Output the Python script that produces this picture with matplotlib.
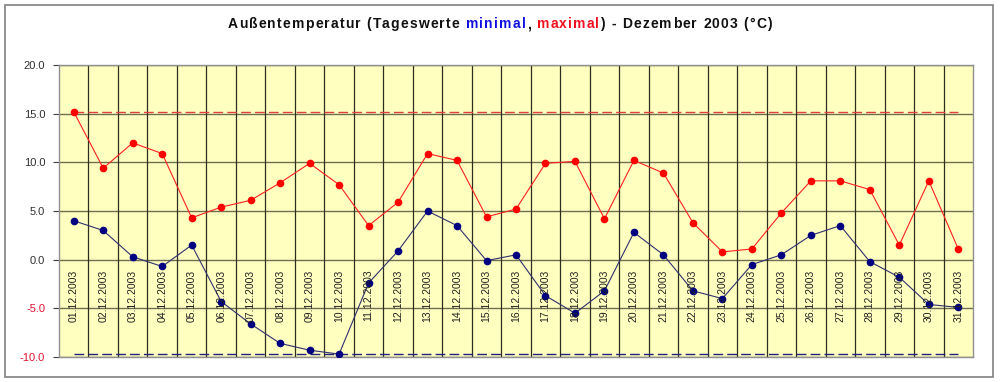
import matplotlib.pyplot as plt
from matplotlib.patches import Rectangle
from matplotlib.offsetbox import AnchoredOffsetbox, HPacker, TextArea

plt.rcParams["font.family"] = ["Liberation Sans", "DejaVu Sans"]

# Daily values, December 2003
days = [f"{d:02d}.12.2003" for d in range(1, 32)]
t_max = [15.2, 9.4, 12.0, 10.9, 4.3, 5.4, 6.1, 7.9, 9.9, 7.7,
         3.5, 5.9, 10.9, 10.2, 4.4, 5.2, 9.9, 10.1, 4.2, 10.2,
         8.9, 3.8, 0.8, 1.1, 4.8, 8.1, 8.1, 7.2, 1.5, 8.1, 1.1]
t_min = [4.0, 3.0, 0.3, -0.7, 1.5, -4.3, -6.6, -8.6, -9.3, -9.7,
         -2.4, 0.9, 5.0, 3.5, -0.1, 0.5, -3.7, -5.5, -3.2, 2.8,
         0.5, -3.2, -4.0, -0.5, 0.5, 2.5, 3.5, -0.2, -1.8, -4.6, -4.9]
y_ticks = [-10, -5, 0, 5, 10, 15, 20]

fig = plt.figure(figsize=(10, 3.82), dpi=100)
fig.patches.append(Rectangle((0.005, 0.013), 0.988, 0.975, transform=fig.transFigure,
                             fill=False, edgecolor="#808080", linewidth=1.2))

ax = fig.add_axes([0.059, 0.0654, 0.914, 0.7644])
ax.set_facecolor("#FFFFC0")
x = list(range(1, len(days) + 1))

# grid
for yv in y_ticks:
    ax.axhline(yv, color="#6E6E50", linewidth=1.0, zorder=1)
for xv in x[:-1]:
    ax.axvline(xv + 0.5, color="#2E2E20", linewidth=0.9, zorder=1)

# reference lines at extreme values
ax.hlines(max(t_max), x[0], x[-1], colors="#E04040", linewidth=1.0,
          linestyles=(0, (7, 3)), zorder=2)
ax.hlines(min(t_min), x[0], x[-1], colors="#202080", linewidth=1.0,
          linestyles=(0, (7, 3)), zorder=2)

ax.plot(x, t_max, color="#FF2020", linewidth=0.8, marker="o", markersize=4.5,
        markerfacecolor="#FF0000", markeredgecolor="#FF0000", zorder=3)
ax.plot(x, t_min, color="#303070", linewidth=0.8, marker="o", markersize=4.5,
        markerfacecolor="#000080", markeredgecolor="#000080", zorder=3)

for xi, lab in zip(x, days):
    ax.text(xi, -1.0, lab, rotation=90, ha="center", va="top",
            fontsize=7.5, color="#202020", zorder=4)

ax.set_xlim(0.5, len(days) + 0.5)
ax.set_ylim(-10, 20)
ax.set_xticks([])
ax.set_yticks(y_ticks)
ax.set_yticklabels([f"{v:.1f}" for v in y_ticks], fontsize=8)
for lab, v in zip(ax.get_yticklabels(), y_ticks):
    lab.set_color("#E01030" if v < 0 else "#303030")
ax.tick_params(axis="y", direction="out", length=4, width=0.8, color="#404040", pad=6)
for s in ax.spines.values():
    s.set_color("#909090")
    s.set_linewidth(1.0)

# title with coloured words and letter spacing
parts = [("Außentemperatur (Tageswerte ", "#101010"), ("minimal", "#1010E0"),
         (", ", "#101010"), ("maximal", "#F01020"),
         (") - Dezember 2003 (°C)", "#101010")]
boxes = []
for text, col in parts:
    for ch in text:
        boxes.append(TextArea(ch, textprops=dict(color=col, fontsize=10,
                                                 fontweight="bold")))
pack = HPacker(children=boxes, align="baseline", pad=0, sep=0.85)
anch = AnchoredOffsetbox(loc="center", child=pack, frameon=False,
                         bbox_to_anchor=(0.5, 0.937), bbox_transform=fig.transFigure,
                         borderpad=0)
fig.add_artist(anch)

fig.savefig("out.png", dpi=100)
